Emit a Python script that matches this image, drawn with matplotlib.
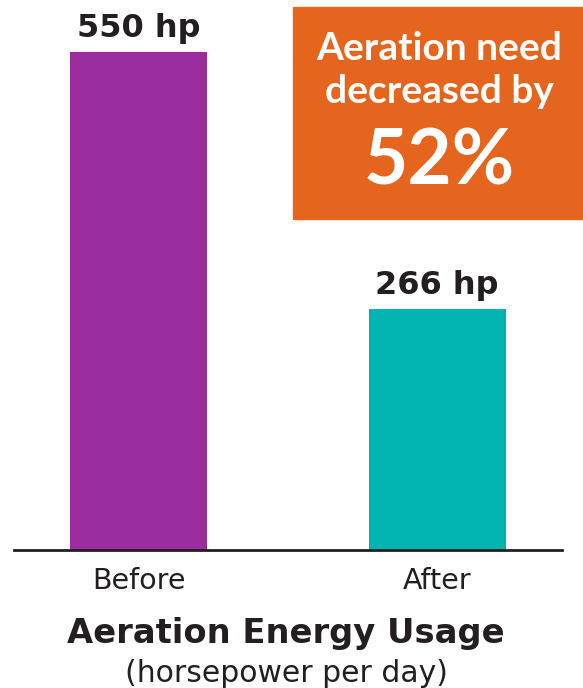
import matplotlib.pyplot as plt
from matplotlib.patches import Rectangle

# data
categories = ["Before", "After"]
horsepower = [550, 266]
bar_labels = ["550 hp", "266 hp"]
bar_colors = ["#9B2D9E", "#00B5B1"]
callout_lines = ["Aeration need", "decreased by"]
callout_value = "52%"
title = "Aeration Energy Usage"
subtitle = "(horsepower per day)"

ink = "#231F20"
orange = "#E6651E"
plt.rcParams['font.family'] = ['DejaVu Sans']

W, H = 583, 688
fig = plt.figure(figsize=(W / 100, H / 100), dpi=100)

# axes placed so that the baseline sits at y=550 px and spans x 14..562 px
ax = fig.add_axes([14 / W, (H - 550) / H, 548 / W, 550 / H])
x = list(range(len(categories)))
ax.bar(x, horsepower, width=0.459, color=bar_colors, zorder=2)
ax.set_xlim(-0.417, 1.418)
ax.set_ylim(0, 550 * 550 / 498)

for xi, v, lab in zip(x, horsepower, bar_labels):
    ax.annotate(lab, (xi, v), xytext=(0, 11), textcoords="offset points",
                ha="center", va="baseline", fontsize=23, fontweight="bold",
                color=ink)

for side in ["top", "right", "left"]:
    ax.spines[side].set_visible(False)
ax.spines["bottom"].set_linewidth(2)
ax.spines["bottom"].set_color(ink)
ax.set_yticks([])
ax.set_xticks(x)
ax.set_xticklabels(categories, fontsize=20.5, color=ink)
ax.tick_params(axis="x", length=0, pad=12.5)

# orange call-out box
box = Rectangle((293 / W, (H - 219) / H), (W - 293) / W, 212 / H,
                transform=fig.transFigure, color=orange, zorder=3)
fig.patches.append(box)
cx = 439 / W
fig.text(cx, 1 - 60 / H, callout_lines[0], ha="center", va="baseline",
         family="Lato", fontsize=28, fontweight="bold", color="white", zorder=4)
fig.text(cx, 1 - 103 / H, callout_lines[1], ha="center", va="baseline",
         family="Lato", fontsize=28, fontweight="bold", color="white", zorder=4)
fig.text(cx, 1 - 185 / H, callout_value, ha="center", va="baseline",
         family="Lato", fontsize=55, fontweight="bold", color="white", zorder=4)

fig.text(286 / W, 1 - 643 / H, title, ha="center", va="baseline",
         fontsize=24.3, fontweight="bold", color=ink)
fig.text(286 / W, 1 - 682 / H, subtitle, ha="center", va="baseline",
         fontsize=21.5, color=ink)

fig.savefig("out.png", dpi=100)
